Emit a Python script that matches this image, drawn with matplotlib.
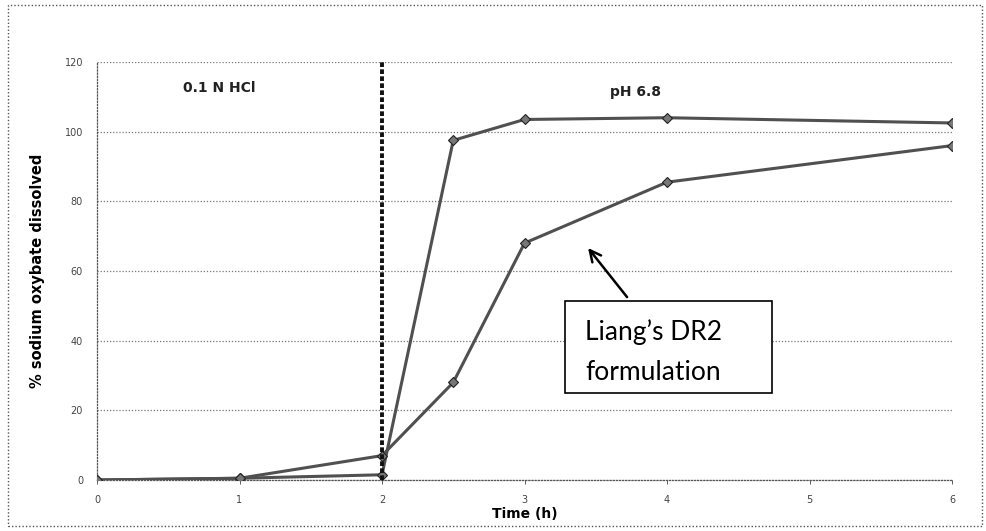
import matplotlib
matplotlib.use("Agg")
import matplotlib.pyplot as plt
from matplotlib.patches import Rectangle

# Dissolution profiles: % sodium oxybate dissolved vs time (h)
time_h = [0, 1, 2, 2.5, 3, 4, 6]
fast_release = [0, 0.5, 1.5, 97.5, 103.5, 104, 102.5]
liang_dr2 = [0, 0.5, 7, 28, 68, 85.5, 96]

x_ticks = [0, 1, 2, 3, 4, 5, 6]
y_ticks = [0, 20, 40, 60, 80, 100, 120]
media_switch = 2

fig = plt.figure(figsize=(9.86, 5.31), dpi=100)
ax = fig.add_axes([97 / 986, 51 / 531, 855 / 986, 418 / 531])

# dotted frame around the whole figure
fig.patches.append(Rectangle((8 / 986, 5 / 531), 974 / 986, 521 / 531,
                             transform=fig.transFigure, fill=False,
                             linestyle=(0, (1, 1.5)), linewidth=1.0,
                             edgecolor="#555555"))

line_kw = dict(color="#505050", linewidth=2.2, marker="D", markersize=5,
               markerfacecolor="#777777", markeredgecolor="#222222",
               markeredgewidth=0.8)
ax.plot(time_h, fast_release, **line_kw, zorder=3)
ax.plot(time_h, liang_dr2, **line_kw, zorder=3)

# change of dissolution medium
ax.vlines(media_switch, 0, 120, colors="#111111", linewidth=2.8,
          linestyles=(0, (1.2, 0.6)), zorder=4)

ax.set_xlim(0, 6)
ax.set_ylim(0, 120)
ax.set_xticks(x_ticks)
ax.set_yticks(y_ticks)
ax.tick_params(axis="both", labelsize=7, colors="#444444", length=3, width=0.6)
ax.tick_params(axis="y", length=0, pad=10)
ax.tick_params(axis="x", pad=8)

ax.grid(axis="y", linestyle=(0, (1, 1.5)), linewidth=0.9, color="#777777")
for side in ("top", "right"):
    ax.spines[side].set_visible(False)
for side in ("left", "bottom"):
    ax.spines[side].set_linestyle((0, (1, 1.5)))
    ax.spines[side].set_linewidth(0.9)
    ax.spines[side].set_color("#555555")

ax.set_xlabel("Time (h)", fontsize=10, fontweight="bold", labelpad=1)
ax.set_ylabel("% sodium oxybate dissolved", fontsize=10.5, fontweight="bold",
              labelpad=14)

ax.text(0.86, 112.5, "0.1 N HCl", ha="center", va="center", fontsize=10,
        fontweight="bold", color="#222222")
ax.text(3.78, 111.5, "pH 6.8", ha="center", va="center", fontsize=10,
        fontweight="bold", color="#222222")

# call-out box with arrow pointing at the DR2 curve
ax.add_patch(Rectangle((3.284, 25.0), 1.453, 26.4, facecolor="white",
                       edgecolor="black", linewidth=1.2, zorder=5))
ax.text(3.425, 40.2, "Liang\u2019s DR2", ha="left", va="baseline",
        fontsize=19, family="Lato", zorder=6)
ax.text(3.425, 28.7, "formulation", ha="left", va="baseline",
        fontsize=19, family="Lato", zorder=6)
ax.annotate("", xy=(3.446, 66.6), xytext=(3.72, 52.5), textcoords="data",
            arrowprops=dict(arrowstyle="->", color="black", linewidth=1.8,
                            mutation_scale=20, shrinkA=0, shrinkB=0),
            zorder=6)

fig.savefig("out.png", dpi=100)
